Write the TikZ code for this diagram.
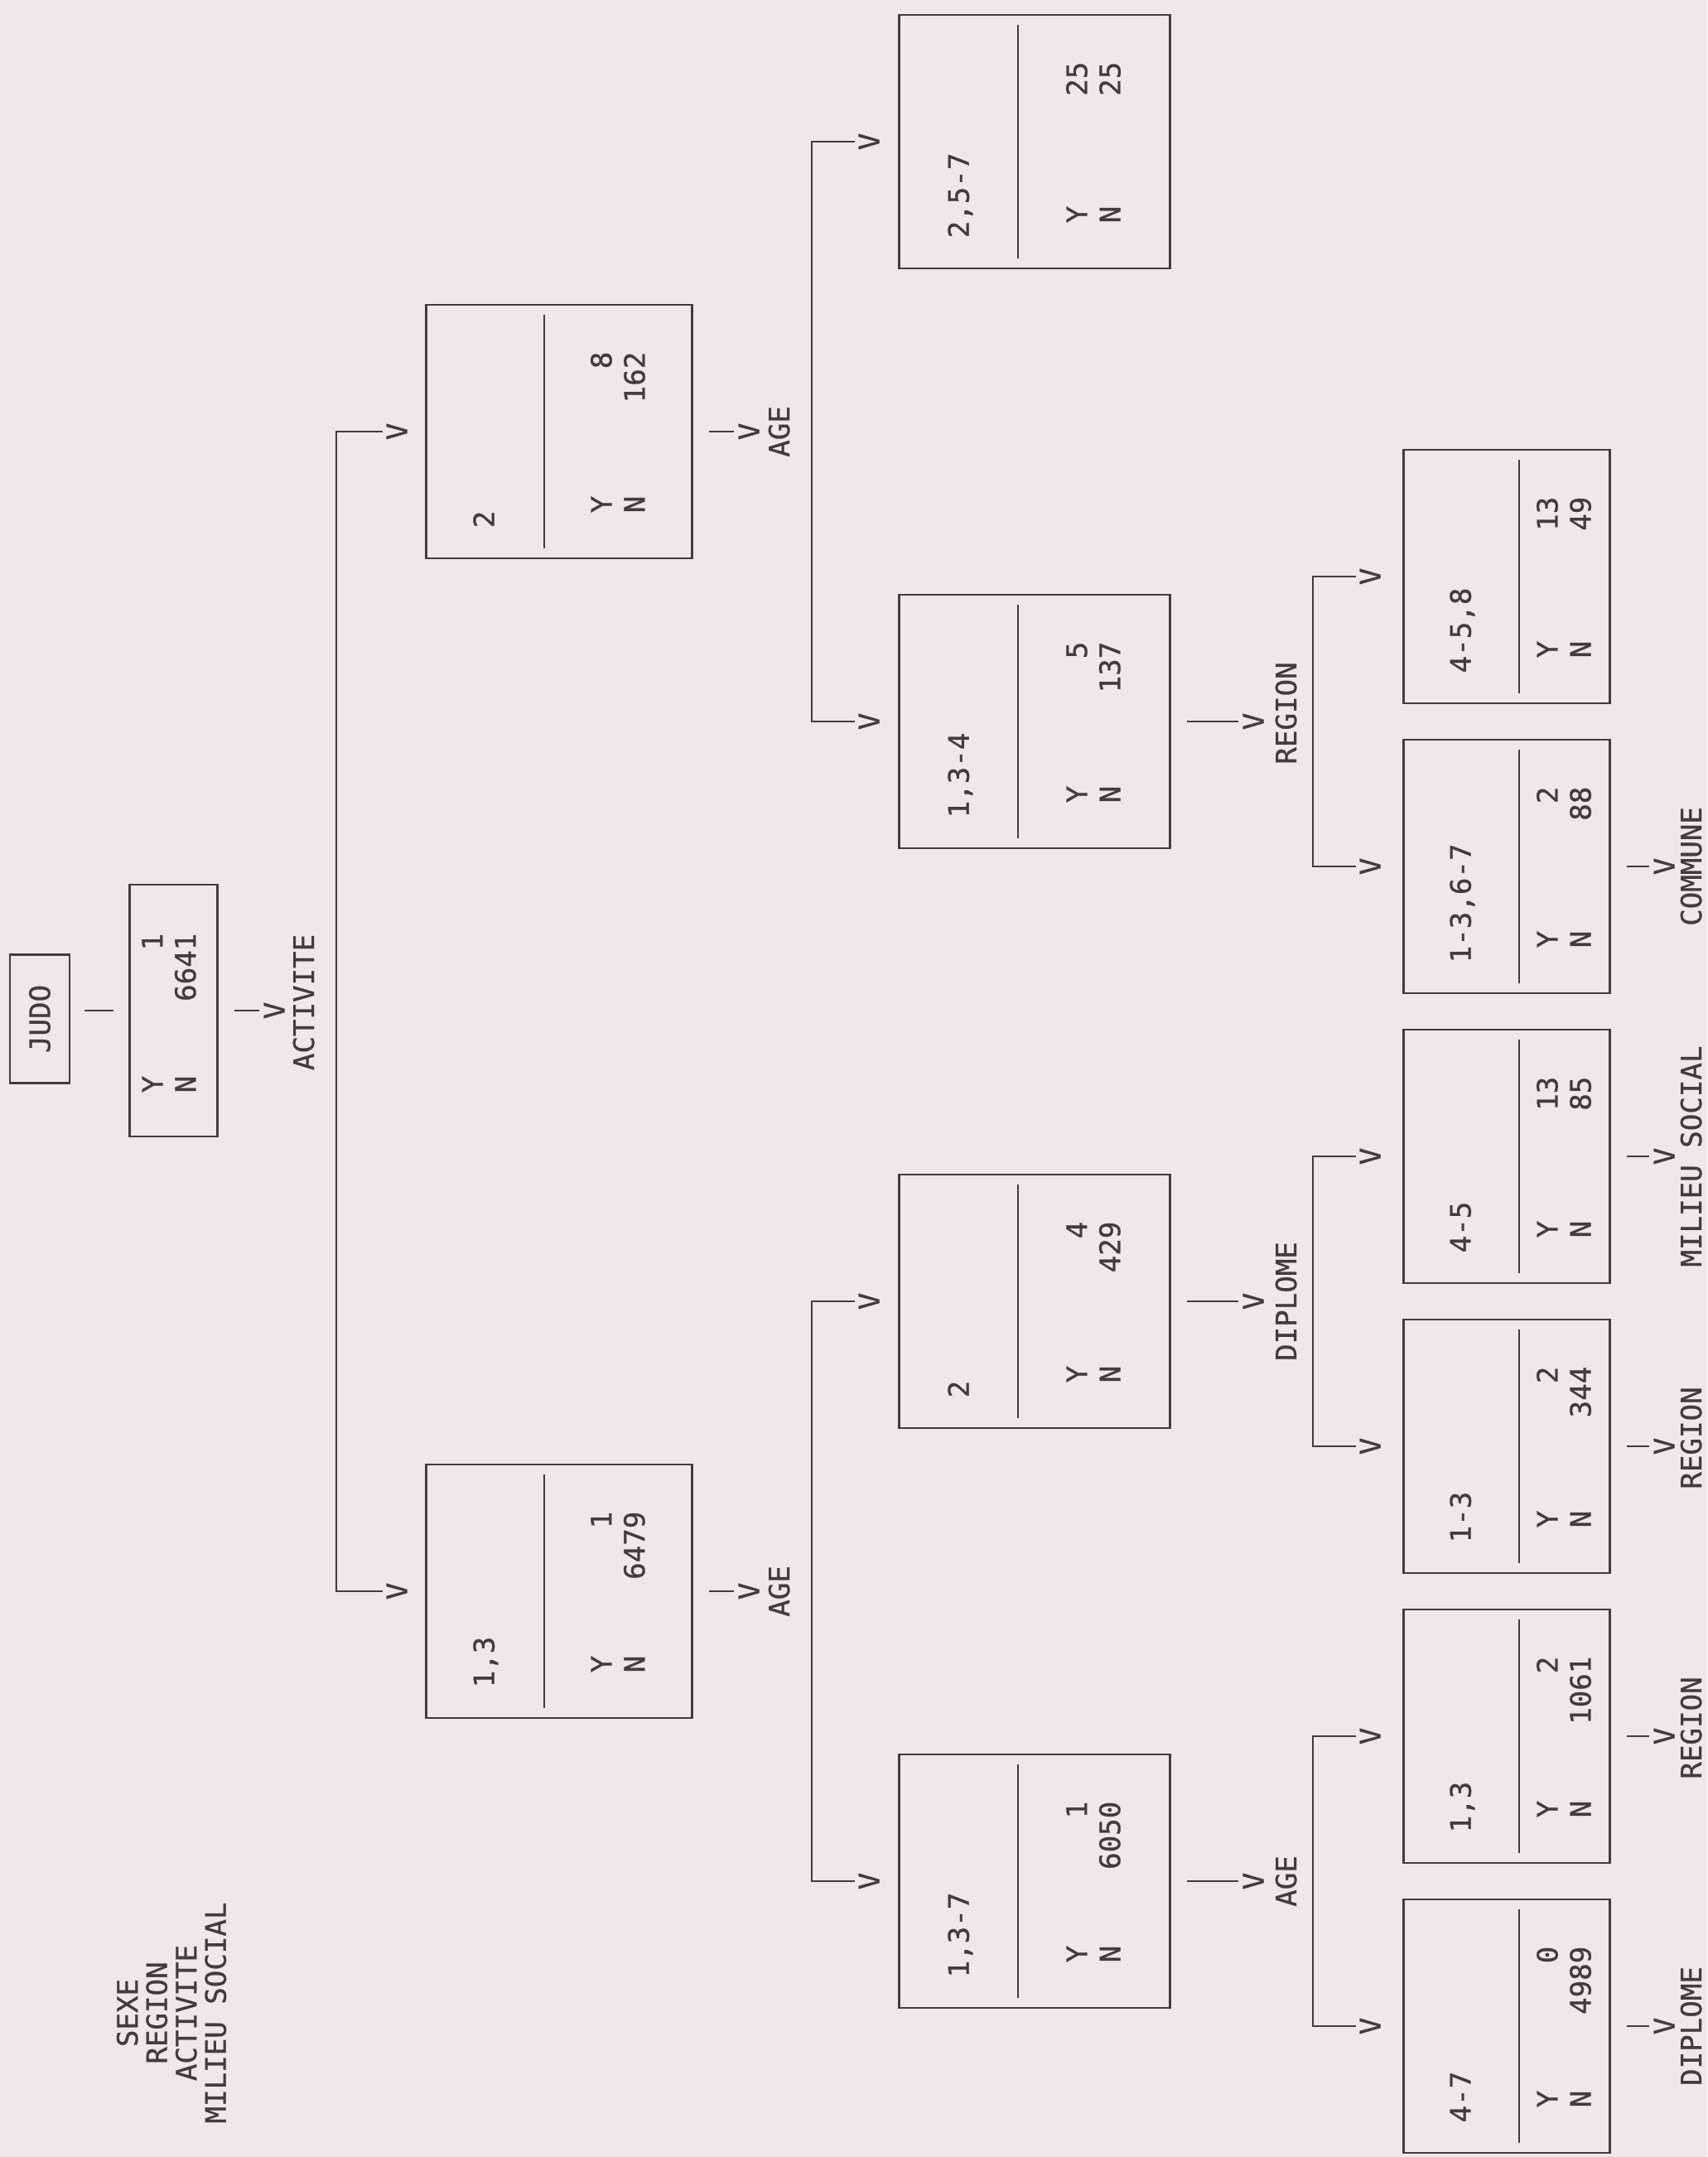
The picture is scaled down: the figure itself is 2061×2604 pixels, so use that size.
\documentclass[tikz,border=0pt]{standalone}
\usepackage{fontspec}
\setmonofont{DejaVu Sans Mono}[FakeBold=0.8]

\definecolor{paper}{RGB}{240,231,234}
\definecolor{ink}{RGB}{66,60,63}

\begin{document}
\begin{tikzpicture}[
  x=0.01cm, y=0.01cm,
  every node/.style={inner sep=0pt, text=ink, font=\ttfamily\fontsize{9.7}{11.4}\selectfont},
  box/.style={draw=ink, line width=0.75pt, minimum width=3.06cm, anchor=north},
  cat/.style={anchor=west, text depth=0pt},
  yn/.style={anchor=west, align=left},
  cnt/.style={anchor=east, align=right},
  vhead/.style={anchor=north},
  lab/.style={anchor=north},
  link/.style={draw=ink, line width=0.75pt},
  stem/.style={link, shorten <=0.19cm, shorten >=0.05cm},
  bus/.style={link, shorten <=0.04cm, shorten >=0.04cm}
]
\fill[paper] (0,0) rectangle (2061,2604);
\useasboundingbox (0,0) rectangle (2061,2604);

\begin{scope}[rotate=90, transform shape]

% --- legend ---
\node[align=center, font=\ttfamily\fontsize{9.7}{10.1}\selectfont] (legend) at (174,-207)
  {SEXE\\REGION\\ACTIVITE\\MILIEU SOCIAL};

% --- root ---
\node[draw=ink, line width=0.75pt, minimum width=1.55cm, minimum height=0.72cm] (judo) at (1374,-48) {JUDO};
\node[box, minimum width=3.04cm, minimum height=1.06cm] (root) at (1384,-155) {};
\node[yn] at (1284,-204) {Y\\N};
\node[cnt] at (1478,-204) {1\\6641};
\coordinate (jr) at (1384,-84);
\draw[link, shorten <=0.18cm, shorten >=0.18cm] (jr) -- (root);
\node[vhead] (vr) at (1384,-318) {V};
\node[lab] at (1394,-353) {ACTIVITE};
\draw[stem] (root) -- (vr);

\coordinate (r1) at (683,-406);
\coordinate (r2) at (2083,-406);
\node[vhead] (va1) at (683,-466) {V};
\node[vhead] (va2) at (2083,-466) {V};
\draw[bus] (va1) -- (r1) -- (r2) -- (va2);

% --- ACTIVITE = 1,3 ---
\begin{scope}[shift={(683,-513)}]
\node[box, minimum height=3.21cm] (a1) at (0,0) {};
\node[cat] at (-117,-71) {1,3};
\draw[link] (-141,-144) -- (141,-144);
\node[yn] at (-99,-233) {Y\\N};
\node[cnt] at (97,-233) {1\\6479};
\end{scope}
\node[vhead] (vo1) at (683,-891) {V};
\node[lab] at (683,-927) {AGE};
\draw[stem] (a1) -- (vo1);

% --- ACTIVITE = 2 ---
\begin{scope}[shift={(2083,-513)}]
\node[box, minimum height=3.21cm] (a2) at (0,0) {};
\node[cat] at (-117,-71) {2};
\draw[link] (-141,-144) -- (141,-144);
\node[yn] at (-99,-233) {Y\\N};
\node[cnt] at (97,-233) {8\\162};
\end{scope}
\node[vhead] (vo2) at (2083,-891) {V};
\node[lab] at (2083,-927) {AGE};
\draw[stem] (a2) -- (vo2);

% --- AGE splits ---
\coordinate (s1) at (333,-980);
\coordinate (s2) at (1033,-980);
\coordinate (s3) at (1733,-980);
\coordinate (s4) at (2433,-980);
\node[vhead] (vb1) at (333,-1036) {V};
\node[vhead] (vb2) at (1033,-1036) {V};
\node[vhead] (vb3) at (1733,-1036) {V};
\node[vhead] (vb4) at (2433,-1036) {V};
\draw[bus] (vb1) -- (s1) -- (s2) -- (vb2);
\draw[bus] (vb3) -- (s3) -- (s4) -- (vb4);

% --- AGE = 1,3-7 ---
\begin{scope}[shift={(333,-1084)}]
\node[box, minimum height=3.27cm] (b1) at (0,0) {};
\node[cat] at (-117,-73) {1,3-7};
\draw[link] (-141,-145) -- (141,-145);
\node[yn] at (-99,-236) {Y\\N};
\node[cnt] at (97,-236) {1\\6050};
\end{scope}
\node[vhead] (vp1) at (333,-1500) {V};
\node[lab] at (333,-1539) {AGE};
\draw[stem] (b1) -- (vp1);

% --- AGE = 2 ---
\begin{scope}[shift={(1033,-1084)}]
\node[box, minimum height=3.27cm] (b2) at (0,0) {};
\node[cat] at (-117,-73) {2};
\draw[link] (-141,-145) -- (141,-145);
\node[yn] at (-99,-236) {Y\\N};
\node[cnt] at (97,-236) {4\\429};
\end{scope}
\node[vhead] (vp2) at (1033,-1500) {V};
\node[lab] at (1033,-1539) {DIPLOME};
\draw[stem] (b2) -- (vp2);

% --- AGE = 1,3-4 ---
\begin{scope}[shift={(1733,-1084)}]
\node[box, minimum height=3.27cm] (b3) at (0,0) {};
\node[cat] at (-117,-73) {1,3-4};
\draw[link] (-141,-145) -- (141,-145);
\node[yn] at (-99,-236) {Y\\N};
\node[cnt] at (97,-236) {5\\137};
\end{scope}
\node[vhead] (vp3) at (1733,-1500) {V};
\node[lab] at (1743,-1539) {REGION};
\draw[stem] (b3) -- (vp3);

% --- AGE = 2,5-7 ---
\begin{scope}[shift={(2433,-1084)}]
\node[box, minimum height=3.27cm] (b4) at (0,0) {};
\node[cat] at (-117,-73) {2,5-7};
\draw[link] (-141,-145) -- (141,-145);
\node[yn] at (-99,-236) {Y\\N};
\node[cnt] at (97,-236) {25\\25};
\end{scope}

% --- third splits ---
\coordinate (t1) at (158,-1585);
\coordinate (t2) at (508,-1585);
\coordinate (t3) at (858,-1585);
\coordinate (t4) at (1208,-1585);
\coordinate (t5) at (1558,-1585);
\coordinate (t6) at (1908,-1585);
\node[vhead] (vc1) at (158,-1641) {V};
\node[vhead] (vc2) at (508,-1641) {V};
\node[vhead] (vc3) at (858,-1641) {V};
\node[vhead] (vc4) at (1208,-1641) {V};
\node[vhead] (vc5) at (1558,-1641) {V};
\node[vhead] (vc6) at (1908,-1641) {V};
\draw[bus] (vc1) -- (t1) -- (t2) -- (vc2);
\draw[bus] (vc3) -- (t3) -- (t4) -- (vc4);
\draw[bus] (vc5) -- (t5) -- (t6) -- (vc6);

% --- AGE = 4-7 ---
\begin{scope}[shift={(158,-1693)}]
\node[box, minimum height=2.49cm] (c1) at (0,0) {};
\node[cat] at (-117,-70) {4-7};
\draw[link] (-141,-141) -- (141,-141);
\node[yn] at (-99,-195) {Y\\N};
\node[cnt] at (97,-195) {0\\4989};
\end{scope}
\node[vhead] (vq1) at (158,-1996) {V};
\node[lab] at (158,-2028) {DIPLOME};
\draw[stem] (c1) -- (vq1);

% --- AGE = 1,3 ---
\begin{scope}[shift={(508,-1693)}]
\node[box, minimum height=2.49cm] (c2) at (0,0) {};
\node[cat] at (-117,-70) {1,3};
\draw[link] (-141,-141) -- (141,-141);
\node[yn] at (-99,-195) {Y\\N};
\node[cnt] at (97,-195) {2\\1061};
\end{scope}
\node[vhead] (vq2) at (508,-1996) {V};
\node[lab] at (518,-2028) {REGION};
\draw[stem] (c2) -- (vq2);

% --- DIPLOME = 1-3 ---
\begin{scope}[shift={(858,-1693)}]
\node[box, minimum height=2.49cm] (c3) at (0,0) {};
\node[cat] at (-117,-70) {1-3};
\draw[link] (-141,-141) -- (141,-141);
\node[yn] at (-99,-195) {Y\\N};
\node[cnt] at (97,-195) {2\\344};
\end{scope}
\node[vhead] (vq3) at (858,-1996) {V};
\node[lab] at (868,-2028) {REGION};
\draw[stem] (c3) -- (vq3);

% --- DIPLOME = 4-5 ---
\begin{scope}[shift={(1208,-1693)}]
\node[box, minimum height=2.49cm] (c4) at (0,0) {};
\node[cat] at (-117,-70) {4-5};
\draw[link] (-141,-141) -- (141,-141);
\node[yn] at (-99,-195) {Y\\N};
\node[cnt] at (97,-195) {13\\85};
\end{scope}
\node[vhead] (vq4) at (1208,-1996) {V};
\node[lab] at (1208,-2028) {MILIEU SOCIAL};
\draw[stem] (c4) -- (vq4);

% --- REGION = 1-3,6-7 ---
\begin{scope}[shift={(1558,-1693)}]
\node[box, minimum height=2.49cm] (c5) at (0,0) {};
\node[cat] at (-117,-70) {1-3,6-7};
\draw[link] (-141,-141) -- (141,-141);
\node[yn] at (-99,-195) {Y\\N};
\node[cnt] at (97,-195) {2\\88};
\end{scope}
\node[vhead] (vq5) at (1558,-1996) {V};
\node[lab] at (1558,-2028) {COMMUNE};
\draw[stem] (c5) -- (vq5);

% --- REGION = 4-5,8 ---
\begin{scope}[shift={(1908,-1693)}]
\node[box, minimum height=2.49cm] (c6) at (0,0) {};
\node[cat] at (-117,-70) {4-5,8};
\draw[link] (-141,-141) -- (141,-141);
\node[yn] at (-99,-195) {Y\\N};
\node[cnt] at (97,-195) {13\\49};
\end{scope}

\end{scope}
\end{tikzpicture}
\end{document}
